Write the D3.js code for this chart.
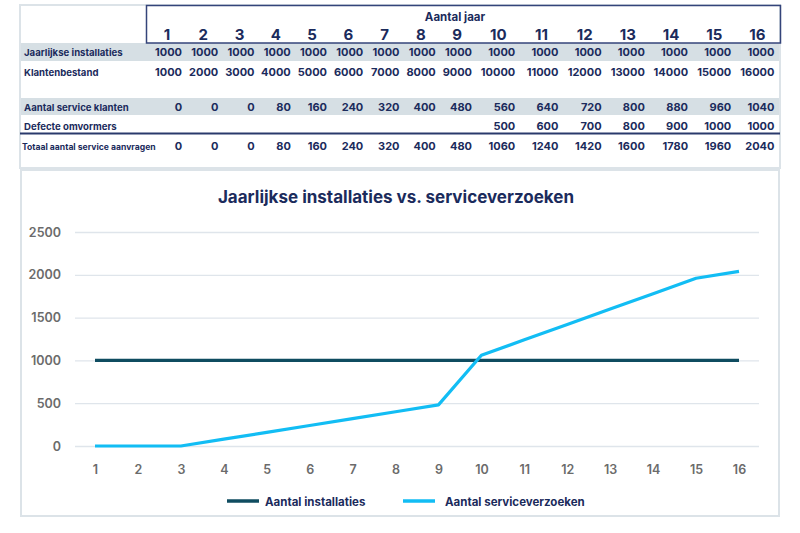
<!DOCTYPE html>
<html><head><meta charset="utf-8">
<script src="https://cdn.jsdelivr.net/npm/d3@7"></script>
<style>
body{margin:0;background:#fff;}
svg{display:block;font-family:Inter,"Noto Sans",sans-serif;}
</style></head>
<body><svg id="c" width="800" height="533"></svg>
<script>
// ---- data ----
const years = [1,2,3,4,5,6,7,8,9,10,11,12,13,14,15,16];
const jaarlijkseInstallaties = [1000,1000,1000,1000,1000,1000,1000,1000,1000,1000,1000,1000,1000,1000,1000,1000];
const klantenbestand = [1000,2000,3000,4000,5000,6000,7000,8000,9000,10000,11000,12000,13000,14000,15000,16000];
const serviceKlanten = [0,0,0,80,160,240,320,400,480,560,640,720,800,880,960,1040];
const defecteOmvormers = [null,null,null,null,null,null,null,null,null,500,600,700,800,900,1000,1000];
const totaalService = [0,0,0,80,160,240,320,400,480,1060,1240,1420,1600,1780,1960,2040];
const yTicks = [0,500,1000,1500,2000,2500];
const tableTitle = "Aantal jaar";
const chartTitle = "Jaarlijkse installaties vs. serviceverzoeken";
const seriesNames = ["Aantal installaties","Aantal serviceverzoeken"];

const navy = "#1b2b5c";
const svg = d3.select("#c");

// ---- table panel ----
svg.append("rect").attr("x",20).attr("y",5).attr("width",760).attr("height",163)
  .attr("fill","#fff").attr("stroke","#dce3e8").attr("stroke-width",2);
// grey bands
[[43,18],[98,17]].forEach(([y,h])=>{
  svg.append("rect").attr("x",21).attr("y",y).attr("width",758).attr("height",h).attr("fill","#d6dfe4");
});
// header box
svg.append("rect").attr("x",146.5).attr("y",5.5).attr("width",634).attr("height",37.5)
  .attr("fill","none").attr("stroke","#34447a").attr("stroke-width",1.5);
// line under Defecte omvormers
svg.append("line").attr("x1",20).attr("x2",780).attr("y1",133.5).attr("y2",133.5)
  .attr("stroke","#2a3a6c").attr("stroke-width",2);

// column right edges computed from column widths (Excel autofit widths)
const colW = years.map(y => y < 10 ? 36.25 : 43.2);
const rightEdge = [];
let acc = 145.8;
colW.forEach((w,i)=>{acc += w; rightEdge.push(acc);});

svg.append("text").attr("x",455).attr("y",21).attr("text-anchor","middle")
  .attr("font-size",11.5).attr("font-weight",700).attr("fill",navy).text(tableTitle);
svg.selectAll("text.hdr").data(years).join("text").attr("class","hdr")
  .attr("x",(d,i)=>rightEdge[i]-(d<10?15:17)).attr("y",40).attr("text-anchor","middle")
  .attr("font-size",15).attr("font-weight",700).attr("fill",navy).text(d=>d);

const rows = [
  {label:"Jaarlijkse installaties", vals:jaarlijkseInstallaties, y:56, fs:9.6},
  {label:"Klantenbestand", vals:klantenbestand, y:76, fs:9.6},
  {label:"Aantal service klanten", vals:serviceKlanten, y:111, fs:9.6},
  {label:"Defecte omvormers", vals:defecteOmvormers, y:129.5, fs:9.6},
  {label:"Totaal aantal service aanvragen", vals:totaalService, y:150, fs:8.6}
];
rows.forEach(r=>{
  svg.append("text").attr("x", r.fs<9?22:24).attr("y",r.y).attr("font-size",r.fs)
    .attr("font-weight",700).attr("fill",navy).text(r.label);
  svg.selectAll(null).data(r.vals).join("text")
    .attr("x",(d,i)=>rightEdge[i]).attr("y",r.y).attr("text-anchor","end")
    .attr("font-size",11).attr("font-weight",700).attr("fill",navy)
    .text(d=>d===null?"":d);
});

// ---- chart panel ----
svg.append("rect").attr("x",21).attr("y",170).attr("width",758).attr("height",346)
  .attr("fill","#fff").attr("stroke","#dce3e8").attr("stroke-width",2);

svg.append("text").attr("x",396).attr("y",203).attr("text-anchor","middle")
  .attr("font-size",17).attr("font-weight",700).attr("fill",navy).text(chartTitle);

const x = d3.scalePoint().domain(years).range([95,739]);
const y = d3.scaleLinear().domain([0,2500]).range([446,232]);

const gy = svg.append("g").attr("transform","translate(75,0)")
  .call(d3.axisLeft(y).tickValues(yTicks).tickFormat(d3.format("d")).tickSize(-684).tickPadding(14));
gy.select(".domain").remove();
gy.selectAll(".tick line").attr("stroke","#dfe5eb").attr("stroke-width",1.3);
gy.selectAll(".tick text").attr("font-size",12.5).attr("font-weight",600).attr("fill","#6b6b6b")
  .attr("font-family","Inter,sans-serif");

const gx = svg.append("g").attr("transform","translate(0,446)")
  .call(d3.axisBottom(x).tickSize(0).tickPadding(19));
gx.select(".domain").remove();
gx.selectAll(".tick text").attr("font-size",12.5).attr("font-weight",600).attr("fill","#6b6b6b")
  .attr("font-family","Inter,sans-serif");

const line = d3.line().x((d,i)=>x(years[i])).y(d=>y(d));
const colors = ["#0f4c60","#12bdf4"];
svg.append("path").datum(jaarlijkseInstallaties).attr("d",line).attr("fill","none")
  .attr("stroke",colors[0]).attr("stroke-width",3.2);
svg.append("path").datum(totaalService).attr("d",line).attr("fill","none")
  .attr("stroke",colors[1]).attr("stroke-width",3.2).attr("stroke-linejoin","round");

// legend
const legX = [227,403];
seriesNames.forEach((n,i)=>{
  svg.append("line").attr("x1",legX[i]).attr("x2",legX[i]+32).attr("y1",501).attr("y2",501)
    .attr("stroke",colors[i]).attr("stroke-width",3.5);
  svg.append("text").attr("x",legX[i]+(i===0?38:42)).attr("y",505.5).attr("font-size",11.5)
    .attr("font-weight",700).attr("fill",navy).text(n);
});
</script></body></html>
